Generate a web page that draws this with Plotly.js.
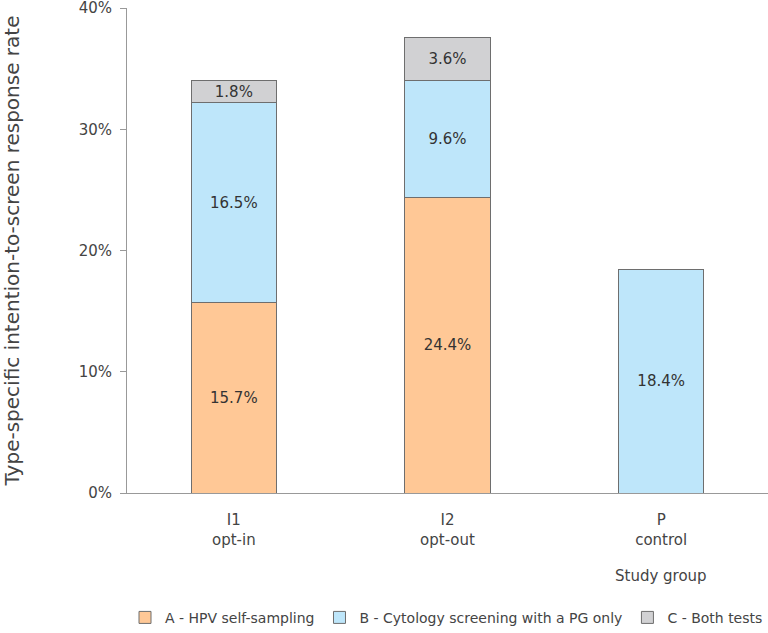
<!DOCTYPE html>
<html>
<head>
<meta charset="utf-8">
<script src="https://cdn.plot.ly/plotly-3.0.1.min.js"></script>
<style>
  body { margin: 0; background: #fff; }
  #myDiv { width: 768px; height: 633px; }
</style>
</head>
<body>
<div id="myDiv"></div>
<script>
var groups = ['I1<br>opt-in', 'I2<br>opt-out', 'P<br>control'];
var selfSampling = [15.7, 24.4, null];
var cytologyOnly = [16.5, 9.6, 18.4];
var bothTests = [1.8, 3.6, null];
var yTicks = [0, 10, 20, 30, 40];
var yTickText = ['0%', '10%', '20%', '30%', '40%'];

var font = 'DejaVu Sans, sans-serif';

function makeTrace(values, name, color) {
  return {
    x: groups,
    y: values,
    type: 'bar',
    name: name,
    text: values.map(function (v) { return v == null ? '' : v.toFixed(1) + '%'; }),
    textposition: 'inside',
    insidetextanchor: 'middle',
    constraintext: 'none',
    textfont: { family: font, size: 15, color: '#333' },
    marker: {
      color: color,
      line: { color: '#6e6e6e', width: 1 }
    },
    hoverinfo: 'skip'
  };
}

var data = [
  makeTrace(selfSampling, 'A - HPV self-sampling', '#ffc896'),
  makeTrace(cytologyOnly, 'B - Cytology screening with a PG only', '#bee6fa'),
  makeTrace(bothTests, 'C - Both tests', '#d1d1d3')
];

var layout = {
  barmode: 'stack',
  bargap: 0.6,
  width: 768,
  height: 633,
  margin: { l: 127, r: 0, t: 8, b: 140 },
  paper_bgcolor: '#fff',
  plot_bgcolor: '#fff',
  font: { family: font, size: 15, color: '#444' },
  xaxis: {
    showline: true,
    linecolor: '#999',
    linewidth: 1,
    ticks: '',
    ticklabelstandoff: 13,
    tickfont: { family: font, size: 15, color: '#444' }
  },
  yaxis: {
    range: [0, 40.001],
    tickmode: 'array',
    tickvals: yTicks,
    ticktext: yTickText,
    ticklabeloverflow: 'allow',
    showgrid: false,
    zeroline: false,
    showline: true,
    linecolor: '#999',
    linewidth: 1,
    ticks: 'outside',
    ticklen: 6,
    tickcolor: '#999',
    ticklabelstandoff: 5,
    tickfont: { family: font, size: 15, color: '#444' },
    title: {
      text: 'Type-specific intention-to-screen response rate',
      font: { family: font, size: 20, color: '#444' },
      standoff: 54
    }
  },
  annotations: [{
    text: 'Study group',
    xref: 'x',
    yref: 'paper',
    x: 2,
    y: -0.171,
    yanchor: 'middle',
    showarrow: false,
    font: { family: font, size: 15, color: '#444' }
  }],
  showlegend: true,
  legend: {
    orientation: 'h',
    xref: 'container',
    yref: 'container',
    x: 1,
    xanchor: 'right',
    y: 0.024,
    yanchor: 'middle',
    traceorder: 'normal',
    font: { family: font, size: 14, color: '#444' }
  }
};

Plotly.newPlot('myDiv', data, layout, { displayModeBar: false, staticPlot: true });
</script>
</body>
</html>
